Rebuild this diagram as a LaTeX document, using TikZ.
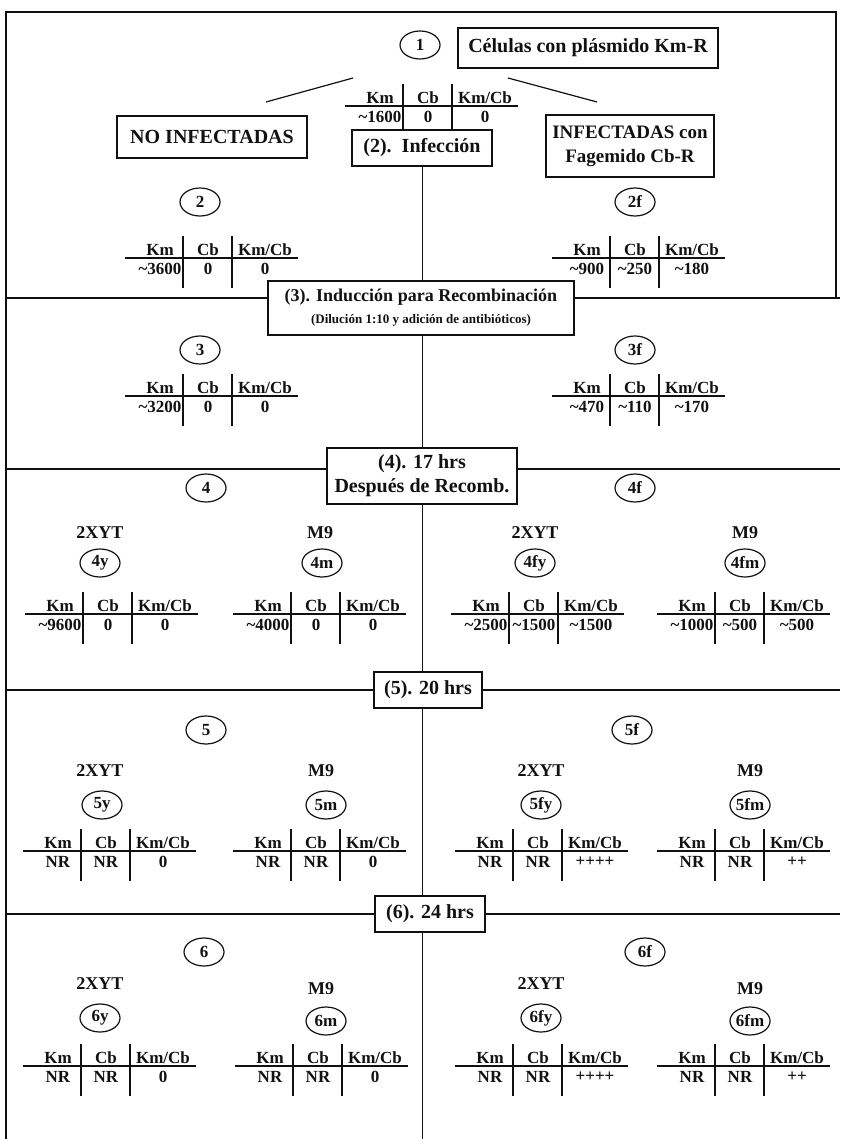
\documentclass[tikz,border=0pt]{standalone}
\usepackage{fontspec}
\setmainfont{Liberation Serif}
\usepackage{tikz}
\usetikzlibrary{shapes.geometric,backgrounds,calc}
\definecolor{Ink}{HTML}{111111}
\newcommand{\aprox}{\textasciitilde}
% one little result table: name, centre x, header y, three values
\newcommand{\kmtable}[6]{%
  \node[cell] (#1km) at (#2-50,#3) {Km};
  \node[cell] (#1cb) at (#2-2,#3) {Cb};
  \node[cell] (#1kc) at (#2+55,#3) {Km/Cb};
  \node[cell] (#1a) at (#2-50,#3+19) {#4};
  \node[cell] (#1b) at (#2-2,#3+19) {#5};
  \node[cell] (#1c) at (#2+55,#3+19) {#6};
  \draw[rule] (#2-85,#3+8) -- (#2+88,#3+8);
  \draw[rule] (#2-27,#3-14) -- (#2-27,#3+38);
  \draw[rule] (#2+22,#3-14) -- (#2+22,#3+38);
}

\begin{document}
\begin{tikzpicture}[x=1pt,y=-1pt,
  stage/.style={draw=Ink,line width=1.2pt,fill=white,align=center,inner sep=2pt,text=Ink,font=\fontsize{20}{24}\selectfont\bfseries},
  tag/.style={ellipse,draw=Ink,line width=1.2pt,fill=white,minimum width=40pt,minimum height=28pt,inner sep=0pt,text=Ink,font=\fontsize{17}{19}\selectfont\bfseries},
  medio/.style={inner sep=0pt,text=Ink,font=\fontsize{18}{20}\selectfont\bfseries},
  cell/.style={inner sep=0pt,text=Ink,font=\fontsize{17}{19}\selectfont\bfseries},
  rule/.style={draw=Ink,line width=1.2pt}
]
  \useasboundingbox (0,0) rectangle (840,1139);

  % top: starting cells
  \node[tag] (c1) at (420,45) {1};
  \node[stage,minimum width=260pt,minimum height=40pt] (cells) at (588,48) {Células con plásmido Km-R};
  \kmtable{t1}{430}{98}{\aprox1600}{0}{0}
  \node[stage,minimum width=190pt,minimum height=42pt] (noinf) at (212,137) {NO INFECTADAS};
  \node[stage,minimum width=140pt,minimum height=36pt] (infec) at (422,148) {(2).\ \ Infección};
  \node[stage,minimum width=168pt,minimum height=62pt,font=\fontsize{19}{24}\selectfont\bfseries] (inf) at (630,146) {INFECTADAS con\\Fagemido Cb-R};
  \coordinate (dl1) at (353,78);
  \coordinate (dl2) at (266,102);
  \coordinate (dr1) at (508,78);
  \coordinate (dr2) at (597,102);

  % (2)
  \node[tag] (c2) at (200,202) {2};
  \node[tag] (c2f) at (635,202) {2f};
  \kmtable{t2}{210}{250}{\aprox3600}{0}{0}
  \kmtable{t2f}{637}{250}{\aprox900}{\aprox250}{\aprox180}

  % (3)
  \node[stage,minimum width=306pt,minimum height=54pt,font=\fontsize{18}{22}\selectfont\bfseries] (box3) at (421,308)
    {(3). Inducción para Recombinación\\{\fontsize{13}{15}\selectfont (Dilución 1:10 y adición de antibióticos)}};
  \node[tag] (c3) at (200,350) {3};
  \node[tag] (c3f) at (635,350) {3f};
  \kmtable{t3}{210}{388}{\aprox3200}{0}{0}
  \kmtable{t3f}{637}{388}{\aprox470}{\aprox110}{\aprox170}

  % (4)
  \node[stage,minimum width=190pt,minimum height=56pt] (box4) at (422,476) {(4). 17 hrs\\Después de Recomb.};
  \node[tag] (c4) at (206,488) {4};
  \node[tag] (c4f) at (635,488) {4f};
  \node[medio] (l4y) at (100,533) {2XYT};
  \node[medio] (l4m) at (320,533) {M9};
  \node[medio] (l4fy) at (535,533) {2XYT};
  \node[medio] (l4fm) at (745,533) {M9};
  \node[tag] (c4y) at (100,563) {4y};
  \node[tag] (c4m) at (322,563) {4m};
  \node[tag] (c4fy) at (535,563) {4fy};
  \node[tag] (c4fm) at (745,563) {4fm};
  \kmtable{t4y}{110}{606}{\aprox9600}{0}{0}
  \kmtable{t4m}{318}{606}{\aprox4000}{0}{0}
  \kmtable{t4fy}{536}{606}{\aprox2500}{\aprox1500}{\aprox1500}
  \kmtable{t4fm}{742}{606}{\aprox1000}{\aprox500}{\aprox500}

  % (5)
  \node[stage,minimum width=108pt,minimum height=36pt] (box5) at (428,690) {(5). 20 hrs};
  \node[tag] (c5) at (206,730) {5};
  \node[tag] (c5f) at (632,730) {5f};
  \node[medio] (l5y) at (100,771) {2XYT};
  \node[medio] (l5m) at (321,771) {M9};
  \node[medio] (l5fy) at (541,771) {2XYT};
  \node[medio] (l5fm) at (750,771) {M9};
  \node[tag] (c5y) at (102,805) {5y};
  \node[tag] (c5m) at (326,805) {5m};
  \node[tag] (c5fy) at (541,805) {5fy};
  \node[tag] (c5fm) at (750,805) {5fm};
  \kmtable{t5y}{108}{843}{NR}{NR}{0}
  \kmtable{t5m}{318}{843}{NR}{NR}{0}
  \kmtable{t5fy}{540}{843}{NR}{NR}{++++}
  \kmtable{t5fm}{742}{843}{NR}{NR}{++}

  % (6)
  \node[stage,minimum width=110pt,minimum height=36pt] (box6) at (430,914) {(6). 24 hrs};
  \node[tag] (c6) at (204,952) {6};
  \node[tag] (c6f) at (645,952) {6f};
  \node[medio] (l6y) at (100,984) {2XYT};
  \node[medio] (l6m) at (321,989) {M9};
  \node[medio] (l6fy) at (541,984) {2XYT};
  \node[medio] (l6fm) at (750,989) {M9};
  \node[tag] (c6y) at (100,1018) {6y};
  \node[tag] (c6m) at (326,1021) {6m};
  \node[tag] (c6fy) at (541,1018) {6fy};
  \node[tag] (c6fm) at (750,1021) {6fm};
  \kmtable{t6y}{108}{1058}{NR}{NR}{0}
  \kmtable{t6m}{320}{1058}{NR}{NR}{0}
  \kmtable{t6fy}{540}{1058}{NR}{NR}{++++}
  \kmtable{t6fm}{742}{1058}{NR}{NR}{++}

  % frame, dividers and the middle line
  \coordinate (tl) at (6,12);
  \coordinate (tr) at (836,12);
  \coordinate (bl) at (6,1139);
  \coordinate (br) at (836,298);
  \coordinate (bot) at (422,1139);
  \coordinate (l3) at (6,298);
  \coordinate (e3) at (840,298);
  \coordinate (l4) at (6,469);
  \coordinate (e4) at (840,469);
  \coordinate (l5) at (6,690);
  \coordinate (e5) at (840,690);
  \coordinate (l6) at (6,914);
  \coordinate (e6) at (840,914);
  \begin{scope}[on background layer]
    \fill[white] (0,0) rectangle (840,1139);
    \draw[rule] (bl) -- (tl) -- (tr) -- (br);
    \draw[rule,line width=1pt] (infec.south) -- (bot);
    \draw[rule] (dl1) -- (dl2);
    \draw[rule] (dr1) -- (dr2);
    \draw[rule] (l3) -- (l3 -| box3.west);
    \draw[rule] (e3 -| box3.east) -- (e3);
    \draw[rule] (l4) -- (l4 -| box4.west);
    \draw[rule] (e4 -| box4.east) -- (e4);
    \draw[rule] (l5) -- (l5 -| box5.west);
    \draw[rule] (e5 -| box5.east) -- (e5);
    \draw[rule] (l6) -- (l6 -| box6.west);
    \draw[rule] (e6 -| box6.east) -- (e6);
  \end{scope}
\end{tikzpicture}
\end{document}
